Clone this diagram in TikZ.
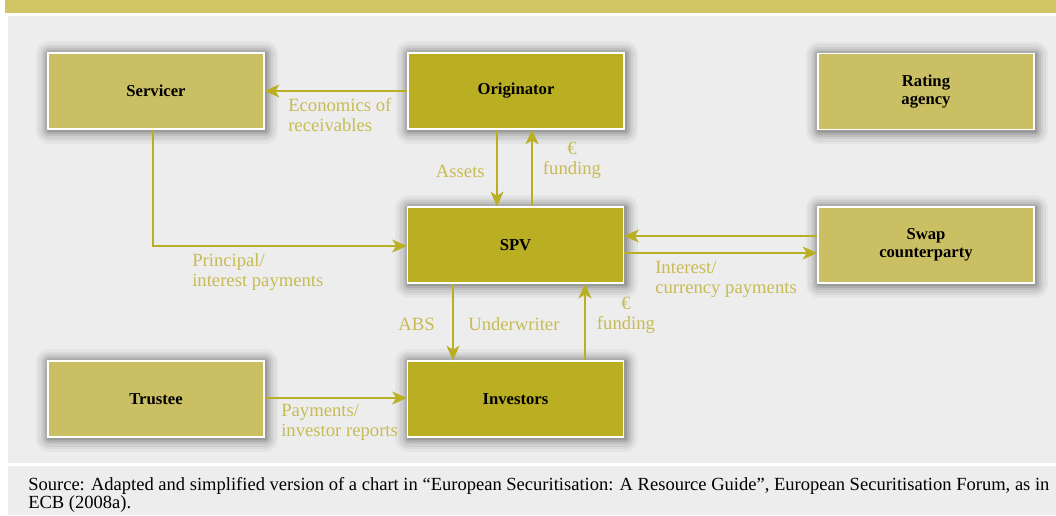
\documentclass[tikz,border=0pt]{standalone}
\usepackage{fontspec}
\setmainfont{Liberation Serif}
\usetikzlibrary{arrows.meta,calc}
\definecolor{band}{HTML}{D1C462}
\definecolor{panel}{HTML}{EDEDED}
\definecolor{lightbox}{HTML}{CBBF63}
\definecolor{darkbox}{HTML}{BAAE22}
\definecolor{labelc}{HTML}{C8BB55}
\tikzset{
 shl/.style={preaction={draw=black, draw opacity=#1, line join=round, transform canvas={xshift=0.8pt,yshift=-1pt}}},
 softshadow/.style={
  preaction={draw=black, draw opacity=0.035, line width=20pt, line join=round, transform canvas={xshift=0.8pt,yshift=-1pt}},
  preaction={draw=black, draw opacity=0.045, line width=16pt, line join=round, transform canvas={xshift=0.8pt,yshift=-1pt}},
  preaction={draw=black, draw opacity=0.055, line width=12.5pt, line join=round, transform canvas={xshift=0.8pt,yshift=-1pt}},
  preaction={draw=black, draw opacity=0.07, line width=9pt, line join=round, transform canvas={xshift=0.8pt,yshift=-1pt}},
  preaction={draw=black, draw opacity=0.09, line width=6pt, line join=round, transform canvas={xshift=0.8pt,yshift=-1pt}},
  preaction={draw=black, draw opacity=0.11, line width=3pt, line join=round, transform canvas={xshift=0.8pt,yshift=-1pt}}},
 box/.style={rectangle, draw=white, line width=0.8pt, minimum width=162pt, minimum height=57pt, inner sep=0pt, align=center, font=\fontsize{12.5}{13.5}\selectfont\bfseries, text=black, softshadow},
 lbox/.style={box, fill=lightbox},
 dbox/.style={box, fill=darkbox},
 arr/.style={draw=darkbox, line width=2.2pt, -{Stealth[length=11pt,width=9.5pt,inset=3pt]}},
 lab/.style={text=labelc, font=\fontsize{14}{15}\selectfont, inner sep=0pt, align=left},
 srcnote/.style={text=black, font=\fontsize{13.9}{13.5}\selectfont, inner sep=0pt, align=left},
}
\begin{document}
\begin{tikzpicture}[x=0.75pt,y=-0.75pt]
\useasboundingbox[fill=white] (0,0) rectangle (1056,515);
\fill[band] (5,0) rectangle (1056,13);
\fill[panel] (8,16) rectangle (1056,463);
\fill[panel] (8,466) rectangle (1056,515);

\node[lbox] (serv) at (156,91) {Servicer};
\node[dbox] (orig) at (516,91) {Originator};
\node[lbox] (rate) at (926,91.5) {Rating\\agency};
\node[dbox] (spv) at (515.5,245) {SPV};
\node[lbox] (swap) at (926,245) {Swap\\counterparty};
\node[lbox] (trus) at (156,399) {Trustee};
\node[dbox] (inv) at (515.5,399) {Investors};

\draw[arr] (orig.west) -- (serv.east);
\draw[arr] (orig.south -| 497,0) -- (spv.north -| 497,0);
\draw[arr] (spv.north -| 532,0) -- (orig.south -| 532,0);
\draw[arr] (serv.south -| 153,0) |- (spv.west |- 0,246);
\draw[arr] (swap.west |- 0,236) -- (spv.east |- 0,236);
\draw[arr] (spv.east |- 0,253) -- (swap.west |- 0,253);
\draw[arr] (spv.south -| 453,0) -- (inv.north -| 453,0);
\draw[arr] (inv.north -| 585,0) -- (spv.south -| 585,0);
\draw[arr] (trus.east |- 0,398) -- (inv.west |- 0,398);

\node[lab, anchor=west] (l1) at (288,115) {Economics of\\receivables};
\node[lab, anchor=east] (l2) at (485,171) {Assets};
\node[lab, align=center] (l3) at (572,160.5) {€\\funding};
\node[lab, anchor=west] (l4) at (192,272) {Principal/\\interest payments};
\node[lab, anchor=west] (l5) at (655,279) {Interest/\\currency payments};
\node[lab, anchor=east] (l6) at (435,324) {ABS};
\node[lab, anchor=west] (l7) at (468,324) {Underwriter};
\node[lab, align=center] (l8) at (626,315) {€\\funding};
\node[lab, anchor=west] (l9) at (281,422.5) {Payments/\\investor reports};

\node[srcnote, anchor=north west] (src) at (28,477) {Source: Adapted and simplified version of a chart in “European Securitisation: A Resource Guide”, European Securitisation Forum, as in\\ECB (2008a).};
\end{tikzpicture}
\end{document}
